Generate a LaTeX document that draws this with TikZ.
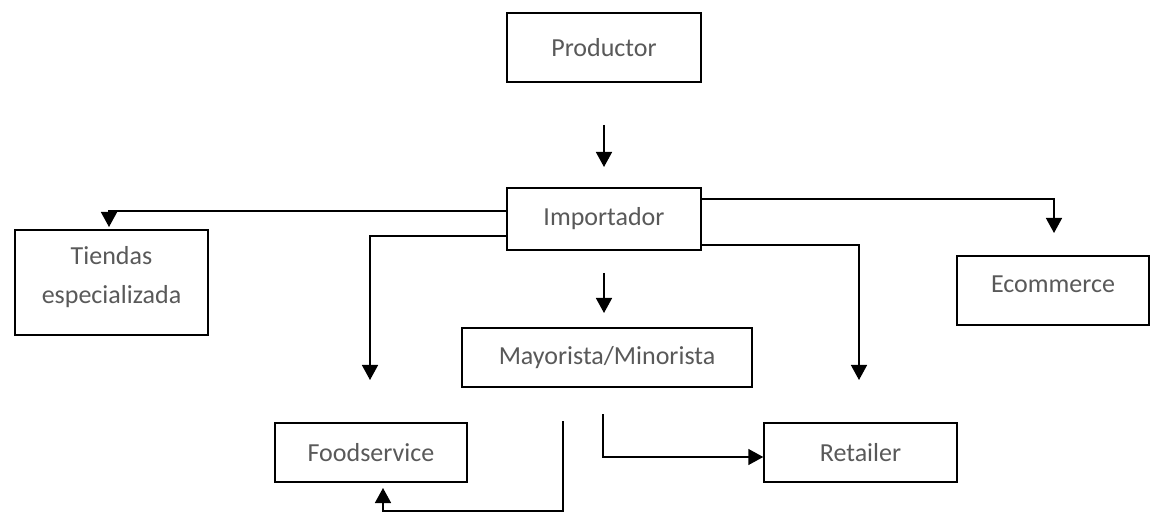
\documentclass[tikz,border=0pt]{standalone}
\usepackage{fontspec}
\setmainfont{Carlito}
\usetikzlibrary{arrows.meta}
\definecolor{txt}{HTML}{595959}
\tikzset{
  box/.style={draw=black, line width=1.5pt, rectangle, inner sep=0pt,
    text=txt, font=\fontsize{26}{39}\selectfont, align=center},
  lbl/.style={text=txt, font=\fontsize{26}{39}\selectfont, align=center, inner sep=0pt},
  arr/.style={draw=black, line width=1.5pt, -{Triangle[width=16pt,length=15pt]}},
  ln/.style={draw=black, line width=1.5pt}
}
\begin{document}
\begin{tikzpicture}[x=1pt,y=-1pt]
\useasboundingbox[fill=white] (0,0) rectangle (1151,518);
% nodes
\node[box, minimum width=194pt, minimum height=69pt] (Productor) at (604,47.5) {Productor};
\node[box, minimum width=194pt, minimum height=62pt] (Importador) at (604,219) {Importador};
\node[box, minimum width=193pt, minimum height=105pt,
  label={[lbl, yshift=5pt]center:Tiendas\\especializada}] (Tiendas) at (111.5,282.5) {};
\node[box, minimum width=192pt, minimum height=69pt,
  label={[lbl, yshift=6pt]center:Ecommerce}] (Ecommerce) at (1053,290.5) {};
\node[box, minimum width=290pt, minimum height=59pt] (Mayorista) at (607,357.5) {Mayorista/Minorista};
\node[box, minimum width=192pt, minimum height=59pt] (Foodservice) at (371,452.5) {Foodservice};
\node[box, minimum width=193pt, minimum height=59pt] (Retailer) at (860.5,452.5) {Retailer};
% coordinates
\coordinate (pA) at (604,125);
\coordinate (pB) at (604,167);
\coordinate (mA) at (604,273);
\coordinate (mB) at (604,313);
\coordinate (tY) at (109,211);
\coordinate (tEnd) at (109,227);
\coordinate (fY) at (370,236);
\coordinate (fEnd) at (370,380);
\coordinate (eY) at (1054,199);
\coordinate (eEnd) at (1054,233);
\coordinate (rY) at (859,245);
\coordinate (rEnd) at (859,380);
\coordinate (r2Start) at (603,414);
\coordinate (r2Y) at (603,457);
\coordinate (f2Start) at (563,421);
\coordinate (f2Y) at (563,511);
\coordinate (f2End) at (383,488);
% connectors
\draw[arr] (pA) -- (pB);
\draw[arr] (mA) -- (mB);
\draw[arr] (Importador.west |- tY) -- (tY) -- (tEnd);
\draw[arr] (Importador.west |- fY) -- (fY) -- (fEnd);
\draw[arr] (Importador.east |- eY) -- (eY) -- (eEnd);
\draw[arr] (Importador.east |- rY) -- (rY) -- (rEnd);
\draw[arr] (r2Start) -- (r2Y) -- (Retailer.west |- r2Y);
\draw[arr] (f2Start) -- (f2Y) -| (f2End);
\end{tikzpicture}
\end{document}
